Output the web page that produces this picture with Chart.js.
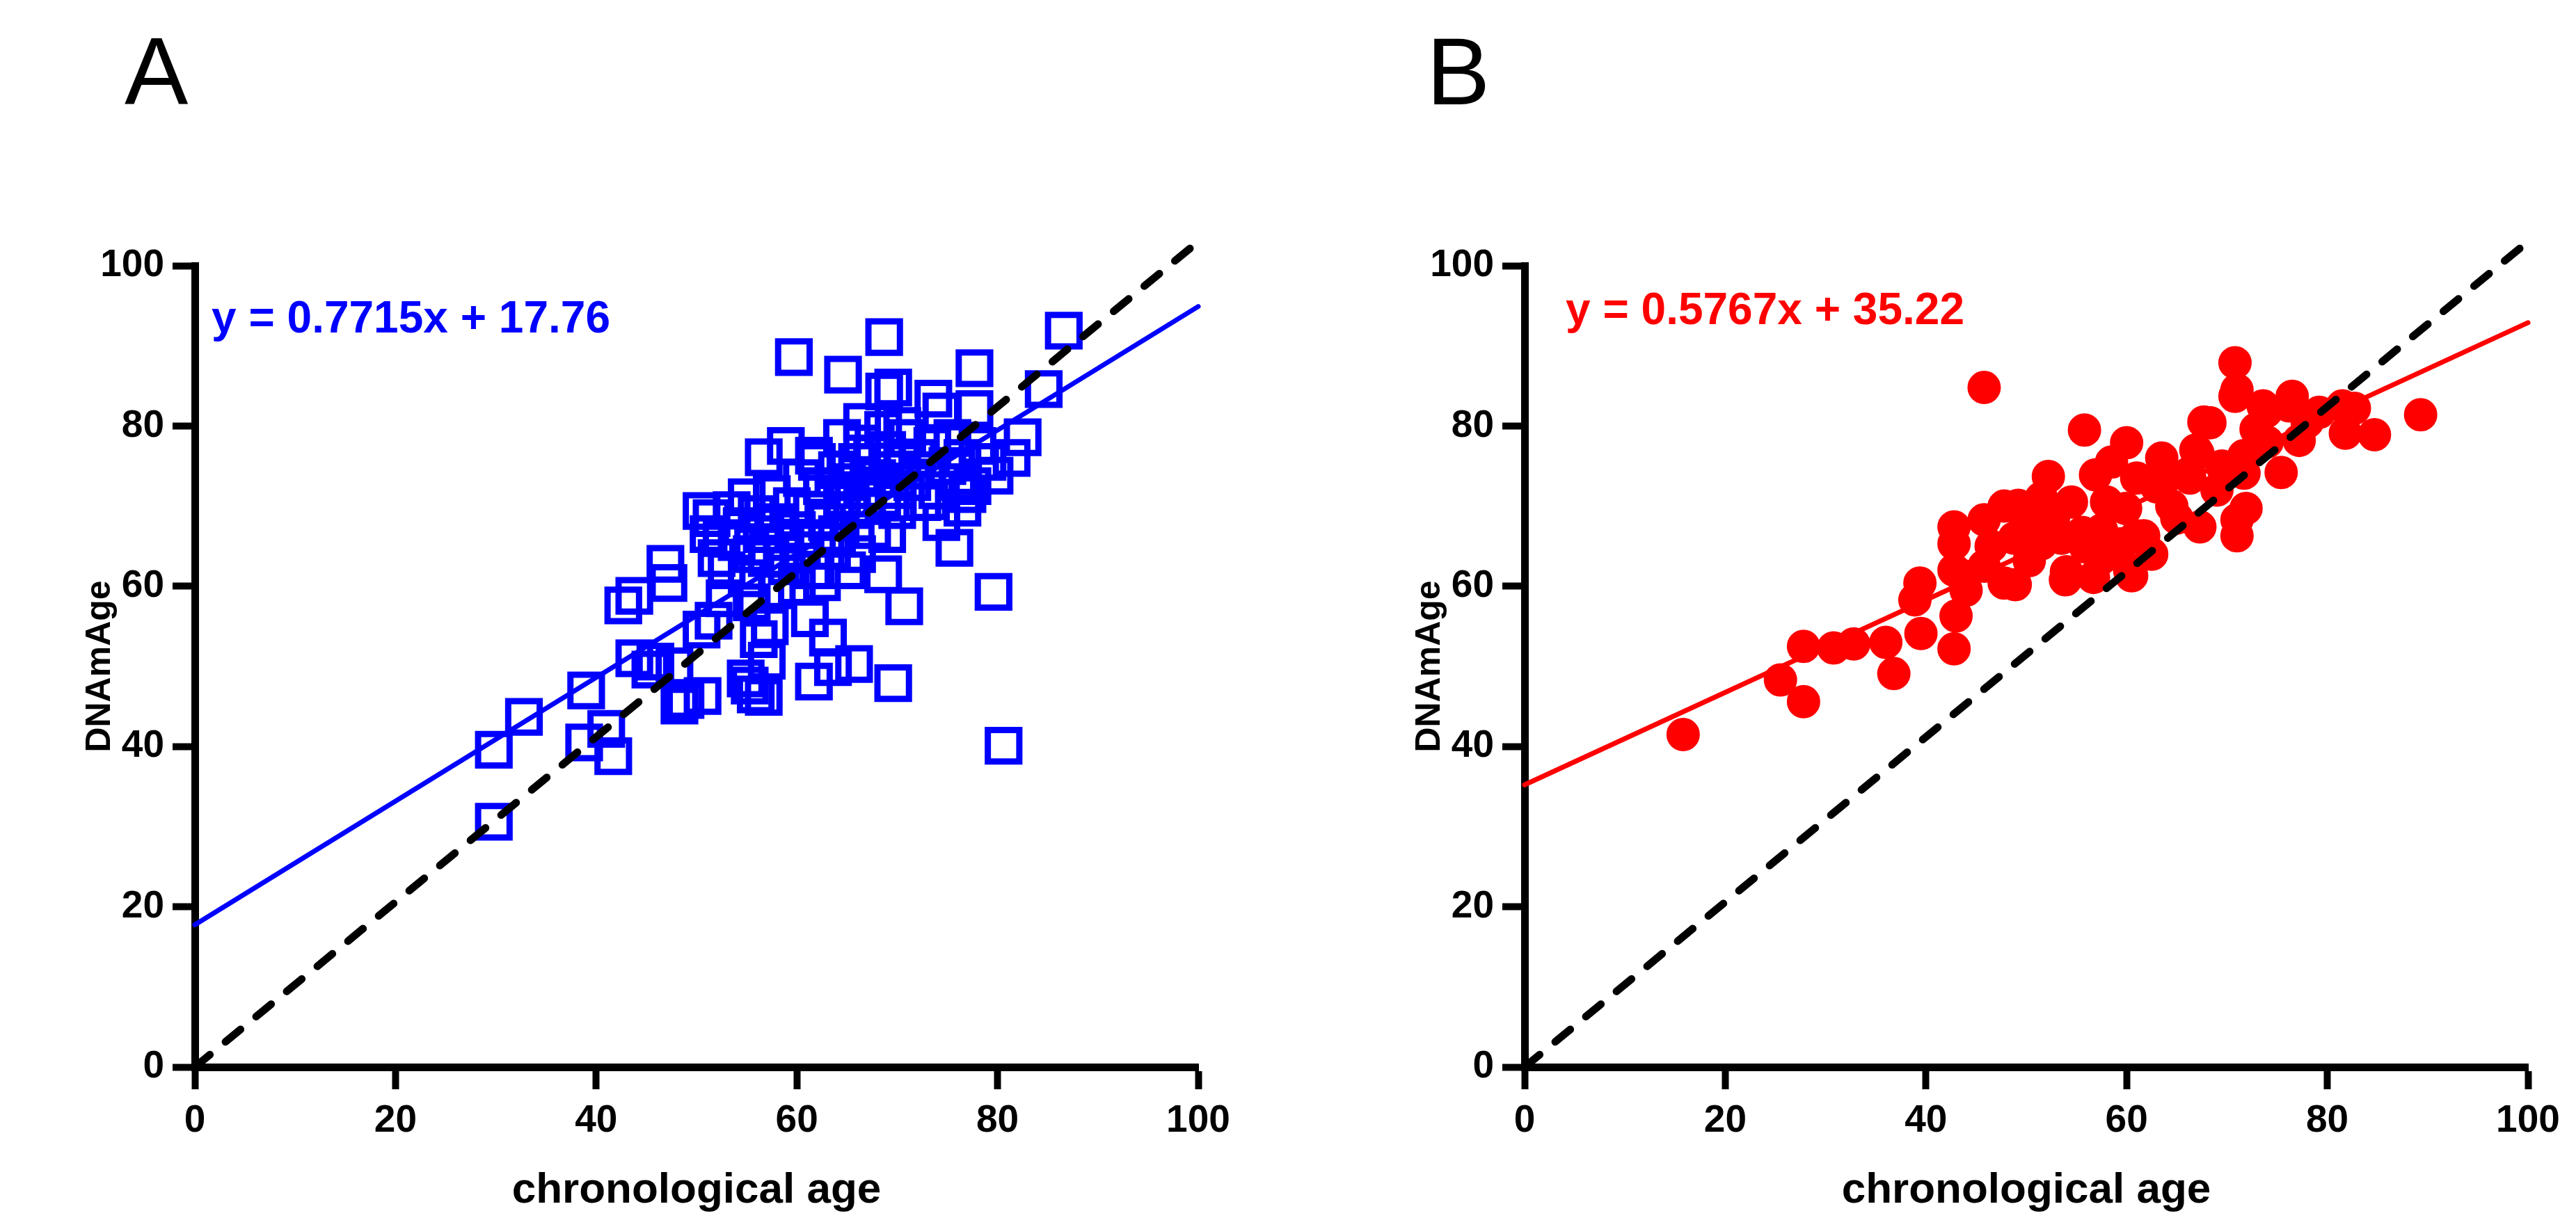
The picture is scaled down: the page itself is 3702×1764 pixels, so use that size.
<!DOCTYPE html>
<html>
<head>
<meta charset="utf-8"/>
<style type="text/css">
  body {
    margin: 0px;
    padding: 0px;
    background: #ffffff;
    width: 3702px;
    height: 1764px;
    position: relative;
    overflow: hidden;
    font-family: 'Liberation Sans', Arial, sans-serif;
  }
  canvas { position: absolute; top: 0px; }
  #chartA { left: 0px; }
  #chartB { left: 1911px; }
  .panel { position: absolute; font-size: 137px; line-height: 137px; color: #000; }
  .eq { position: absolute; font-size: 64px; line-height: 64px; font-weight: bold; white-space: nowrap; }
</style>
<script src="https://cdn.jsdelivr.net/npm/chart.js@4.4.1/dist/chart.umd.min.js"></script>
</head>
<body>
  <div class="panel" style="left:179px; top:34px;">A</div>
  <div class="panel" style="left:2050px; top:34px;">B</div>
  <div class="eq" style="left:304px; top:424px; color:#0000ff;">y = 0.7715x + 17.76</div>
  <div class="eq" style="left:2250px; top:412px; color:#ff0000;">y = 0.5767x + 35.22</div>
  <canvas id="chartA" width="1850" height="1764"></canvas>
  <canvas id="chartB" width="1791" height="1764"></canvas>
<script>
// panel A: chronological age vs DNAmAge (open squares)
var ageA = [29.8, 29.8, 32.8, 39.0, 38.8, 41.0, 41.7, 42.7, 43.8, 47.2, 46.9, 43.8, 45.4, 45.9, 47.8, 48.3, 48.9, 50.6, 50.5, 51.7,
  54.9, 55.9, 56.7, 55.3, 56.2, 57.3, 57.0, 61.3, 63.1, 61.7, 63.6, 65.7, 69.6, 70.7, 79.6, 80.6, 75.7, 68.6, 59.7, 64.6,
  68.7, 77.7, 86.6, 84.6, 68.7, 69.6, 73.6, 74.4, 77.7, 82.5, 81.4, 79.7, 79.0, 58.9, 56.7, 61.7, 55.0, 50.5, 51.2, 66.5,
  68.6, 74.4, 73.2, 77.5, 76.5,
  51.5, 52.5, 52.0, 53.0, 53.5, 54.0, 54.5, 55.5, 55.0, 56.0, 56.5, 57.0, 57.5, 58.0, 58.5, 59.0, 59.5, 60.0, 60.5, 60.0,
  52.8, 55.5, 58.0, 61.5, 62.0, 61.5, 62.5, 63.0, 63.5, 62.5,
  64.0, 64.5, 65.0, 65.5, 66.0, 66.5, 67.0, 67.5, 68.0, 68.5, 69.0, 69.5, 70.0, 70.5, 71.0, 71.5, 72.0, 72.5, 73.0, 73.5,
  74.0, 75.0, 75.5, 76.0, 76.5, 77.0, 78.0, 64.0, 66.0, 67.5, 65.0, 69.0, 70.0, 64.5, 66.5, 62.0, 60.5, 70.5];
var dnamA = [39.6, 30.6, 43.7, 47.0, 40.5, 42.2, 38.8, 57.6, 58.8, 60.4, 62.8, 51.0, 49.6, 50.6, 50.0, 45.1, 45.8, 46.3, 54.6, 55.7,
  48.5, 46.5, 46.2, 47.6, 53.4, 55.0, 50.7, 56.0, 53.6, 48.1, 49.9, 50.3, 47.9, 57.5, 59.3, 40.1, 64.8, 61.5, 88.6, 86.4,
  91.1, 87.2, 91.9, 84.6, 84.3, 84.8, 83.4, 81.8, 82.1, 78.6, 76.0, 73.8, 75.5, 77.5, 76.1, 76.3, 71.1, 69.4, 66.5, 77.8,
  79.5, 68.0, 70.6, 72.5, 69.8,
  68.5, 66.0, 63.5, 62.0, 69.5, 65.5, 67.5, 64.0, 61.0, 69.0, 66.5, 63.5, 71.5, 68.0, 65.5, 62.5, 70.0, 67.0, 64.5, 60.0,
  58.5, 58.0, 59.5, 62.0, 66.0, 69.5, 72.5, 68.0, 64.5, 60.5,
  74.5, 71.0, 73.0, 69.5, 75.5, 72.0, 70.0, 76.5, 73.5, 71.0, 77.0, 74.5, 72.0, 75.5, 78.5, 73.0, 76.0, 70.5, 74.5, 77.5,
  72.0, 75.0, 78.5, 73.0, 76.0, 71.5, 77.5, 66.5, 64.0, 67.0, 62.0, 66.5, 69.5, 78.5, 80.5, 75.5, 73.5, 80.0];

// panel B: filled circles
var ageB = [15.8, 25.5, 27.8, 27.8, 30.8, 32.8, 36.0, 36.8, 39.5, 42.8, 39.4, 38.9, 43.0, 43.5, 42.8, 42.8, 42.8, 47.8, 45.8, 47.8,
  45.8, 49.7, 48.8, 51.5, 50.3, 52.7, 52.2, 56.9, 55.8, 60.0, 54.0, 56.7, 60.5, 48.9, 53.9, 55.6, 55.9, 59.9, 61.7, 59.5,
  63.5, 66.3, 67.3, 71.0, 71.9, 67.1, 68.3, 71.7, 73.9, 76.2, 75.4, 81.5, 81.8, 84.7, 70.8, 45.8, 70.8, 71.0, 89.3, 82.7,
  79.2, 73.6, 76.5, 77.2, 72.9, 71.0, 71.7, 67.7, 61.0, 66.2, 66.9, 63.0, 49.2, 61.0, 60.3, 50.5, 53.5, 57.5, 58.0, 54.5,
  57.5, 62.5, 64.5, 65.0, 69.0, 74.0, 78.0, 44.0, 46.5, 51.5, 58.5, 63.5, 69.5];
var dnamB = [41.5, 48.3, 45.6, 52.5, 52.3, 52.8, 53.0, 49.1, 54.1, 52.2, 60.4, 58.3, 56.3, 61.4, 67.4, 65.3, 62.0, 60.4, 62.5, 70.0,
  68.3, 69.0, 66.0, 65.3, 63.2, 68.3, 73.7, 73.9, 79.5, 77.9, 61.8, 61.1, 61.3, 60.2, 60.8, 66.7, 64.9, 69.7, 66.3, 65.3,
  72.8, 73.5, 67.4, 66.3, 69.7, 76.6, 80.4, 76.3, 81.8, 82.5, 74.2, 82.5, 79.1, 78.9, 83.7, 84.8, 87.9, 84.5, 81.4, 82.2,
  81.7, 82.5, 83.7, 78.2, 79.6, 68.3, 74.1, 80.5, 73.5, 74.1, 77.0, 72.4, 70.1, 66.3, 62.0, 67.5, 66.0, 67.0, 70.5, 70.5,
  63.5, 64.0, 70.0, 68.5, 72.0, 78.0, 80.5, 59.5, 65.0, 71.0, 75.5, 76.0, 75.0];

// fitted lines and the identity line, as end points
var fitAX = [0, 100], fitAY = [17.76, 94.91];
var fitBX = [0, 100], fitBY = [35.22, 92.89];
var identX = [0, 100], identY = [0, 103];

var axisMin = 0, axisMax = 100, axisStep = 20;

Chart.defaults.font.family = "'Liberation Sans', Arial, sans-serif";
Chart.defaults.color = '#000000';

function xy(xs, ys) {
  return xs.map(function(x, i) { return {x: x, y: ys[i]}; });
}

function tickGrid() {
  return {display: true, drawOnChartArea: false, drawTicks: true, tickLength: 32, tickWidth: 10, tickColor: '#000000'};
}

function makeOptions(padRight) {
  return {
    responsive: false,
    animation: false,
    devicePixelRatio: 1,
    layout: {padding: {left: 0, top: 382, right: padRight, bottom: 0}},
    plugins: {legend: {display: false}, tooltip: {enabled: false}},
    scales: {
      x: {
        type: 'linear', min: axisMin, max: axisMax,
        ticks: {stepSize: axisStep, color: '#000', padding: 13, font: {size: 55, weight: 'bold'}},
        grid: tickGrid(),
        border: {display: true, width: 11, color: '#000'},
        title: {display: true, text: 'chronological age', color: '#000', font: {size: 62, weight: 'bold'}, padding: {top: 0, bottom: 15}},
        afterFit: function(s) { s.height = 230; }
      },
      y: {
        type: 'linear', min: axisMin, max: axisMax,
        ticks: {stepSize: axisStep, color: '#000', padding: 12, font: {size: 55, weight: 'bold'}},
        grid: tickGrid(),
        border: {display: true, width: 11, color: '#000'},
        title: {display: true, text: 'DNAmAge', color: '#000', font: {size: 50, weight: 'bold'}, padding: {top: 114, bottom: 0}},
        afterFit: function(s) { s.width = 280; }
      }
    }
  };
}

function lineSet(xs, ys, color, width, dash, order) {
  return {
    data: xy(xs, ys), showLine: true, pointRadius: 0, borderColor: color, borderWidth: width,
    borderDash: dash, borderCapStyle: 'round', clip: false, order: order
  };
}

new Chart(document.getElementById('chartA'), {
  type: 'scatter',
  data: {
    datasets: [
      lineSet(identX, identY, '#000000', 11, [28, 29], 0),
      lineSet(fitAX, fitAY, '#0000ff', 7, [], 1),
      {
        data: xy(ageA, dnamA), pointStyle: 'rect', pointRadius: 32, borderWidth: 9,
        borderColor: '#0000ff', backgroundColor: 'rgba(0,0,0,0)', order: 2, clip: false
      }
    ]
  },
  options: makeOptions(128)
});

new Chart(document.getElementById('chartB'), {
  type: 'scatter',
  data: {
    datasets: [
      lineSet(identX, identY, '#000000', 11, [28, 29], 0),
      lineSet(fitBX, fitBY, '#ff0000', 7, [], 2),
      {
        data: xy(ageB, dnamB), pointStyle: 'circle', pointRadius: 23, borderWidth: 2,
        borderColor: '#ff0000', backgroundColor: '#ff0000', order: 1, clip: false
      }
    ]
  },
  options: makeOptions(69)
});
</script>
</body>
</html>
